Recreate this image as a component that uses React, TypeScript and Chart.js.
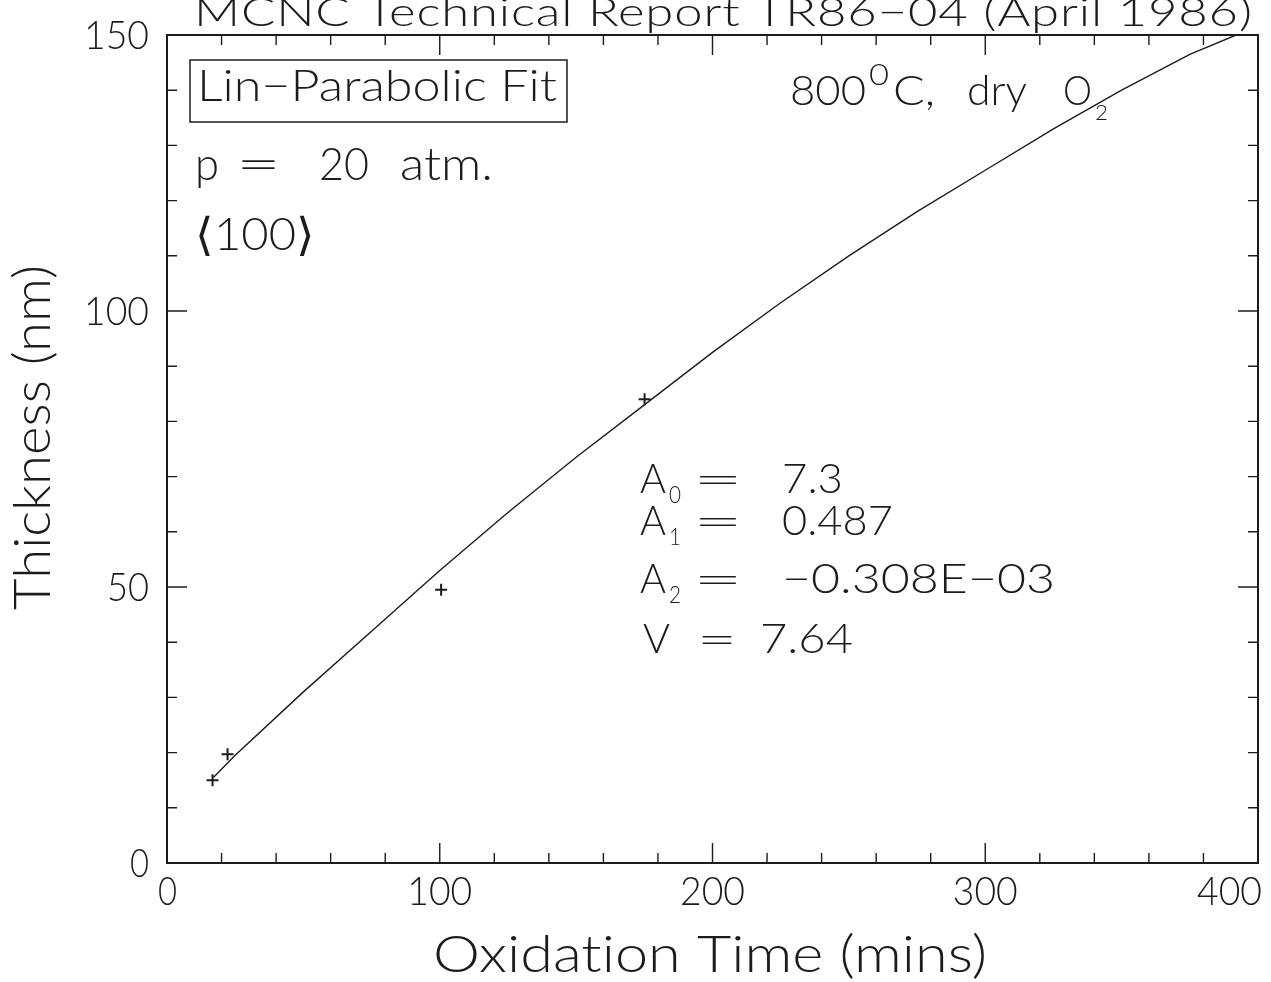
import { useEffect, useRef } from 'react';
import { Chart, registerables } from 'chart.js';

Chart.register(...registerables);

// ---- data ----
const measTime = [16.7, 22.2, 100.5, 175.1];
const measThick = [15.0, 19.7, 49.5, 84.0];

const fitTime = [17, 25, 50, 75, 100, 125, 150, 175, 200, 225, 250, 275, 300, 325, 350, 375, 392];
const fitThick = [15.5, 19.5, 31, 42, 53, 63.5, 73.5, 83, 92.5, 101.5, 110, 118, 125.5, 133, 140, 146.5, 150];

const xTicks = [0, 100, 200, 300, 400];
const xTickLabels = ['0', '100', '200', '300', '400'];
const yTicks = [0, 50, 100, 150];
const yTickLabels = ['0', '50', '100', '150'];

const titleText = 'MCNC Technical Report TR86\u221204 (April 1986)';
const xTitle = 'Oxidation Time (mins)';
const yTitle = 'Thickness (nm)';
const boxText = 'Lin\u2212Parabolic Fit';
const pressureParts = ['p', '=', '20', 'atm.'];
const orientText = '\u27E8100\u27E9';
const tempParts = ['800', '0', 'C,', 'dry', 'O', '2'];
const coefNames = ['A', 'A', 'A'];
const coefSubs = ['0', '1', '2'];
const coefValues = ['7.3', '0.487', '\u22120.308E\u221203'];
const vName = 'V';
const vValue = '7.64';

const INK = '#1c1c1c';
const FONT = 'Lato, "DejaVu Sans", sans-serif';

function txt(ctx: CanvasRenderingContext2D, raw: string, left: number, right: number, baseline: number, cap: number, maxStretch = 1.25) {
  // zero-width non-joiner keeps "ti" from turning into a ligature
  const s = raw.replace(/ti/g, 't\u200Ci').replace(/fi/g, 'f\u200Ci');
  const size = cap / 0.7165;
  ctx.font = `300 ${size}px ${FONT}`;
  (ctx as any).letterSpacing = '0px';
  ctx.textAlign = 'left';
  ctx.textBaseline = 'alphabetic';
  const n = Array.from(raw).length;
  const w = ctx.measureText(s).width;
  const target = right - left;
  let sx = target / w;
  let ls = 0;
  if (n > 1 && sx > maxStretch) {
    sx = maxStretch;
    ls = (target - w * sx) / (n - 1) / sx;
  }
  ctx.save();
  ctx.translate(left, baseline);
  ctx.scale(sx, 1);
  (ctx as any).letterSpacing = `${ls}px`;
  ctx.fillText(s, 0, 0);
  ctx.restore();
  (ctx as any).letterSpacing = '0px';
}

const decor = {
  id: 'decor',
  beforeDraw(chart: any) {
    const ctx = chart.ctx;
    ctx.save();
    ctx.fillStyle = '#ffffff';
    ctx.fillRect(0, 0, chart.width, chart.height);
    ctx.restore();
  },
  afterDraw(chart: any) {
    const ctx: CanvasRenderingContext2D = chart.ctx;
    const { left, right, top, bottom } = chart.chartArea;
    const xs = chart.scales.x;
    const ys = chart.scales.y;
    ctx.save();
    ctx.strokeStyle = INK;
    ctx.fillStyle = INK;

    // frame
    ctx.lineWidth = 2;
    ctx.strokeRect(left, top, right - left, bottom - top);

    // inward ticks
    ctx.lineWidth = 1.4;
    ctx.beginPath();
    for (let v = 20; v < 400; v += 20) {
      const px = xs.getPixelForValue(v);
      const len = v % 100 === 0 ? 20 : 10;
      ctx.moveTo(px, bottom); ctx.lineTo(px, bottom - len);
      ctx.moveTo(px, top); ctx.lineTo(px, top + len);
    }
    for (let v = 10; v < 150; v += 10) {
      const py = ys.getPixelForValue(v);
      const len = v % 50 === 0 ? 20 : 10;
      ctx.moveTo(left, py); ctx.lineTo(left + len, py);
      ctx.moveTo(right, py); ctx.lineTo(right - len, py);
    }
    ctx.stroke();

    // tick labels
    xTicks.forEach((v, i) => {
      const s = xTickLabels[i];
      const w = 23 * s.length - 4;
      const cx = xs.getPixelForValue(v);
      let l = cx - w / 2;
      if (l + w > 1262) l = 1262 - w;
      if (l < 158) l = 158;
      txt(ctx, s, l, l + w, 905, 28);
    });
    yTicks.forEach((v, i) => {
      const s = yTickLabels[i];
      const w = 23 * s.length - 4;
      const cy = ys.getPixelForValue(v);
      txt(ctx, s, 149 - w, 149, cy + 14, 28);
    });

    // axis titles
    txt(ctx, xTitle, 433, 987, 972, 36);
    ctx.save();
    ctx.translate(50, 610);
    ctx.rotate(-Math.PI / 2);
    txt(ctx, yTitle, 0, 345, 0, 36);
    ctx.restore();

    // header
    txt(ctx, titleText, 194, 1252, 26, 28, 1.3);

    // boxed label
    ctx.lineWidth = 1.5;
    ctx.strokeRect(190, 60, 377, 62);
    txt(ctx, boxText, 197, 557, 101, 31);

    // condition label
    txt(ctx, tempParts[0], 790, 866, 105, 30);
    txt(ctx, tempParts[1], 869, 889, 85, 21);
    txt(ctx, tempParts[2], 893, 935, 105, 30);
    txt(ctx, tempParts[3], 967, 1027, 105, 30);
    txt(ctx, tempParts[4], 1063, 1092, 105, 30);
    txt(ctx, tempParts[5], 1095, 1108, 120, 15);

    // pressure / orientation
    const pSpans = [[195, 219], [236, 281], [319, 369], [400, 493]];
    pressureParts.forEach((s, i) => {
      txt(ctx, s, pSpans[i][0], pSpans[i][1], 180, 32);
    });
    txt(ctx, orientText, 195, 315, 250, 32);

    // coefficients
    const rowBase = [493, 535, 593];
    const rights = [843, 893, 1055];
    coefNames.forEach((n, i) => {
      const b = rowBase[i];
      txt(ctx, n, 640, 666, b, 30);
      txt(ctx, coefSubs[i], 669, 681, b + 10, 17);
      txt(ctx, '=', 693, 743, b + 1, 30);
      txt(ctx, coefValues[i], 782, rights[i], b, 30);
    });
    txt(ctx, vName, 643, 670, 653, 30);
    txt(ctx, '=', 697, 737, 654, 30);
    txt(ctx, vValue, 760, 853, 653, 30);

    ctx.restore();
  },
};

export default function App() {
  const ref = useRef<HTMLCanvasElement>(null);
  useEffect(() => {
    document.body.style.margin = '0';
    const canvas = ref.current!;
    const chart = new Chart(canvas, {
      type: 'scatter',
      data: {
        datasets: [
          {
            label: 'fit',
            data: fitTime.map((t, i) => ({ x: t, y: fitThick[i] })),
            showLine: true,
            borderColor: INK,
            borderWidth: 1.4,
            pointRadius: 0,
            tension: 0,
          },
          {
            label: 'measured',
            data: measTime.map((t, i) => ({ x: t, y: measThick[i] })),
            showLine: false,
            pointStyle: 'cross',
            pointRadius: 6,
            pointBorderWidth: 2,
            borderColor: INK,
            backgroundColor: INK,
          },
        ],
      },
      options: {
        responsive: false,
        animation: false,
        devicePixelRatio: 1,
        layout: { padding: { left: 167, top: 35, right: 13, bottom: 119 } },
        plugins: { legend: { display: false }, tooltip: { enabled: false } },
        scales: {
          x: { type: 'linear', min: 0, max: 400, display: false },
          y: { type: 'linear', min: 0, max: 150, display: false },
        },
      },
      plugins: [decor],
    } as any);
    return () => chart.destroy();
  }, []);
  return <canvas ref={ref} width={1271} height={982} style={{ display: 'block', width: 1271, height: 982 }} />;
}
